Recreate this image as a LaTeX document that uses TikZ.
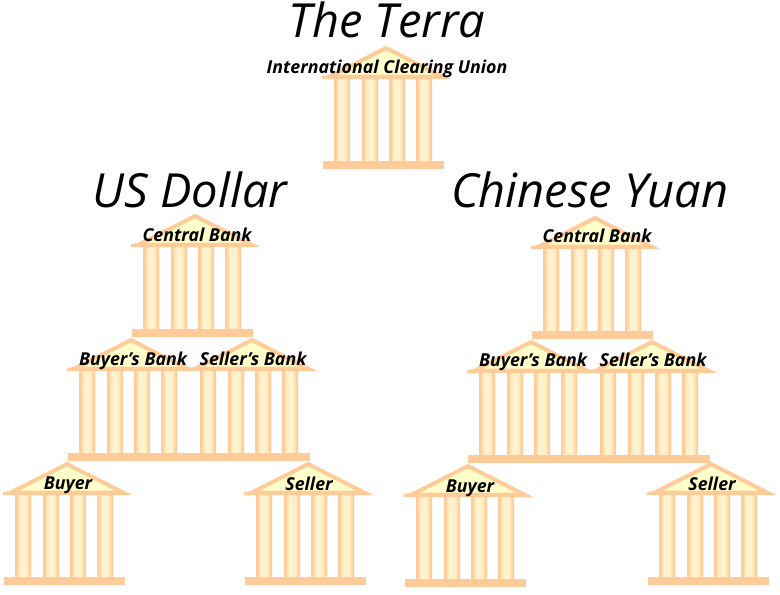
\documentclass[tikz,border=0pt]{standalone}
\usepackage{fontspec}
\setmainfont{Open Sans}
\usepackage{xcolor}
\usepackage{tikz}
\usetikzlibrary{positioning}
\definecolor{TempleOrange}{HTML}{FFCC99}
\definecolor{ColumnLight}{HTML}{FFF2CC}
\definecolor{RoofYellow}{HTML}{FFFFCC}
\pgfdeclarehorizontalshading{columnshade}{100bp}{
  color(0bp)=(TempleOrange); color(29bp)=(TempleOrange); color(40bp)=(ColumnLight);
  color(58bp)=(ColumnLight); color(71bp)=(TempleOrange); color(100bp)=(TempleOrange)}
\tikzset{
  columnbar/.style={shading=columnshade,draw=none},
  roofbar/.style={fill=RoofYellow,draw=TempleOrange,line width=4pt,line join=miter},
  basebar/.style={fill=TempleOrange,draw=none},
  TT/.style={font=\fontsize{47}{50}\selectfont\itshape,inner sep=0pt},
  LB/.style={font=\fontsize{17.8}{20}\selectfont\bfseries\itshape,inner sep=0pt,anchor=base},
  temple/.pic={
    \foreach \cx in {11,39,66,93}
      \shade[columnbar] (\cx,35) rectangle ++(16,82);
    \fill[basebar] (0,117) rectangle (121,125);
    \draw[roofbar] (7,32.5) -- (63,4) -- (119,32.5) -- cycle;
    \fill[basebar] (-1,32) -- (6,31) -- (120,31) -- (128,35) -- (-1,35) -- cycle;
  }
}
\begin{document}
\begin{tikzpicture}[x=1pt,y=-1pt]
  \useasboundingbox (0,0) rectangle (780,595);
  % top
  \pic at (323,44) {temple};
  \node[TT] (terra) at (387,20) {The Terra};
  \node[LB] (icu) at (387,73) {International Clearing Union};
  % dollar side
  \pic at (132,212) {temple};
  \pic at (68,336) {temple};
  \pic at (189,336) {temple};
  \pic at (4,460) {temple};
  \pic at (245,460) {temple};
  \node[TT] (usd) at (190,190) {US Dollar};
  \node[LB] (cbU) at (197,241) {Central Bank};
  \node[LB] (bbU) at (133,365) {Buyer's Bank};
  \node[LB] (sbU) at (253,365) {Seller's Bank};
  \node[LB] (bU) at (68,489) {Buyer};
  \node[LB] (sU) at (309,490) {Seller};
  % yuan side
  \pic at (532,214) {temple};
  \pic at (468,338) {temple};
  \pic at (589,338) {temple};
  \pic at (405,462) {temple};
  \pic at (648,460) {temple};
  \node[TT] (cny) at (590,190) {Chinese Yuan};
  \node[LB] (cbC) at (597,242) {Central Bank};
  \node[LB] (bbC) at (533,366) {Buyer's Bank};
  \node[LB] (sbC) at (653,366) {Seller's Bank};
  \node[LB] (bC) at (470,492) {Buyer};
  \node[LB] (sC) at (712,490) {Seller};
\end{tikzpicture}
\end{document}
